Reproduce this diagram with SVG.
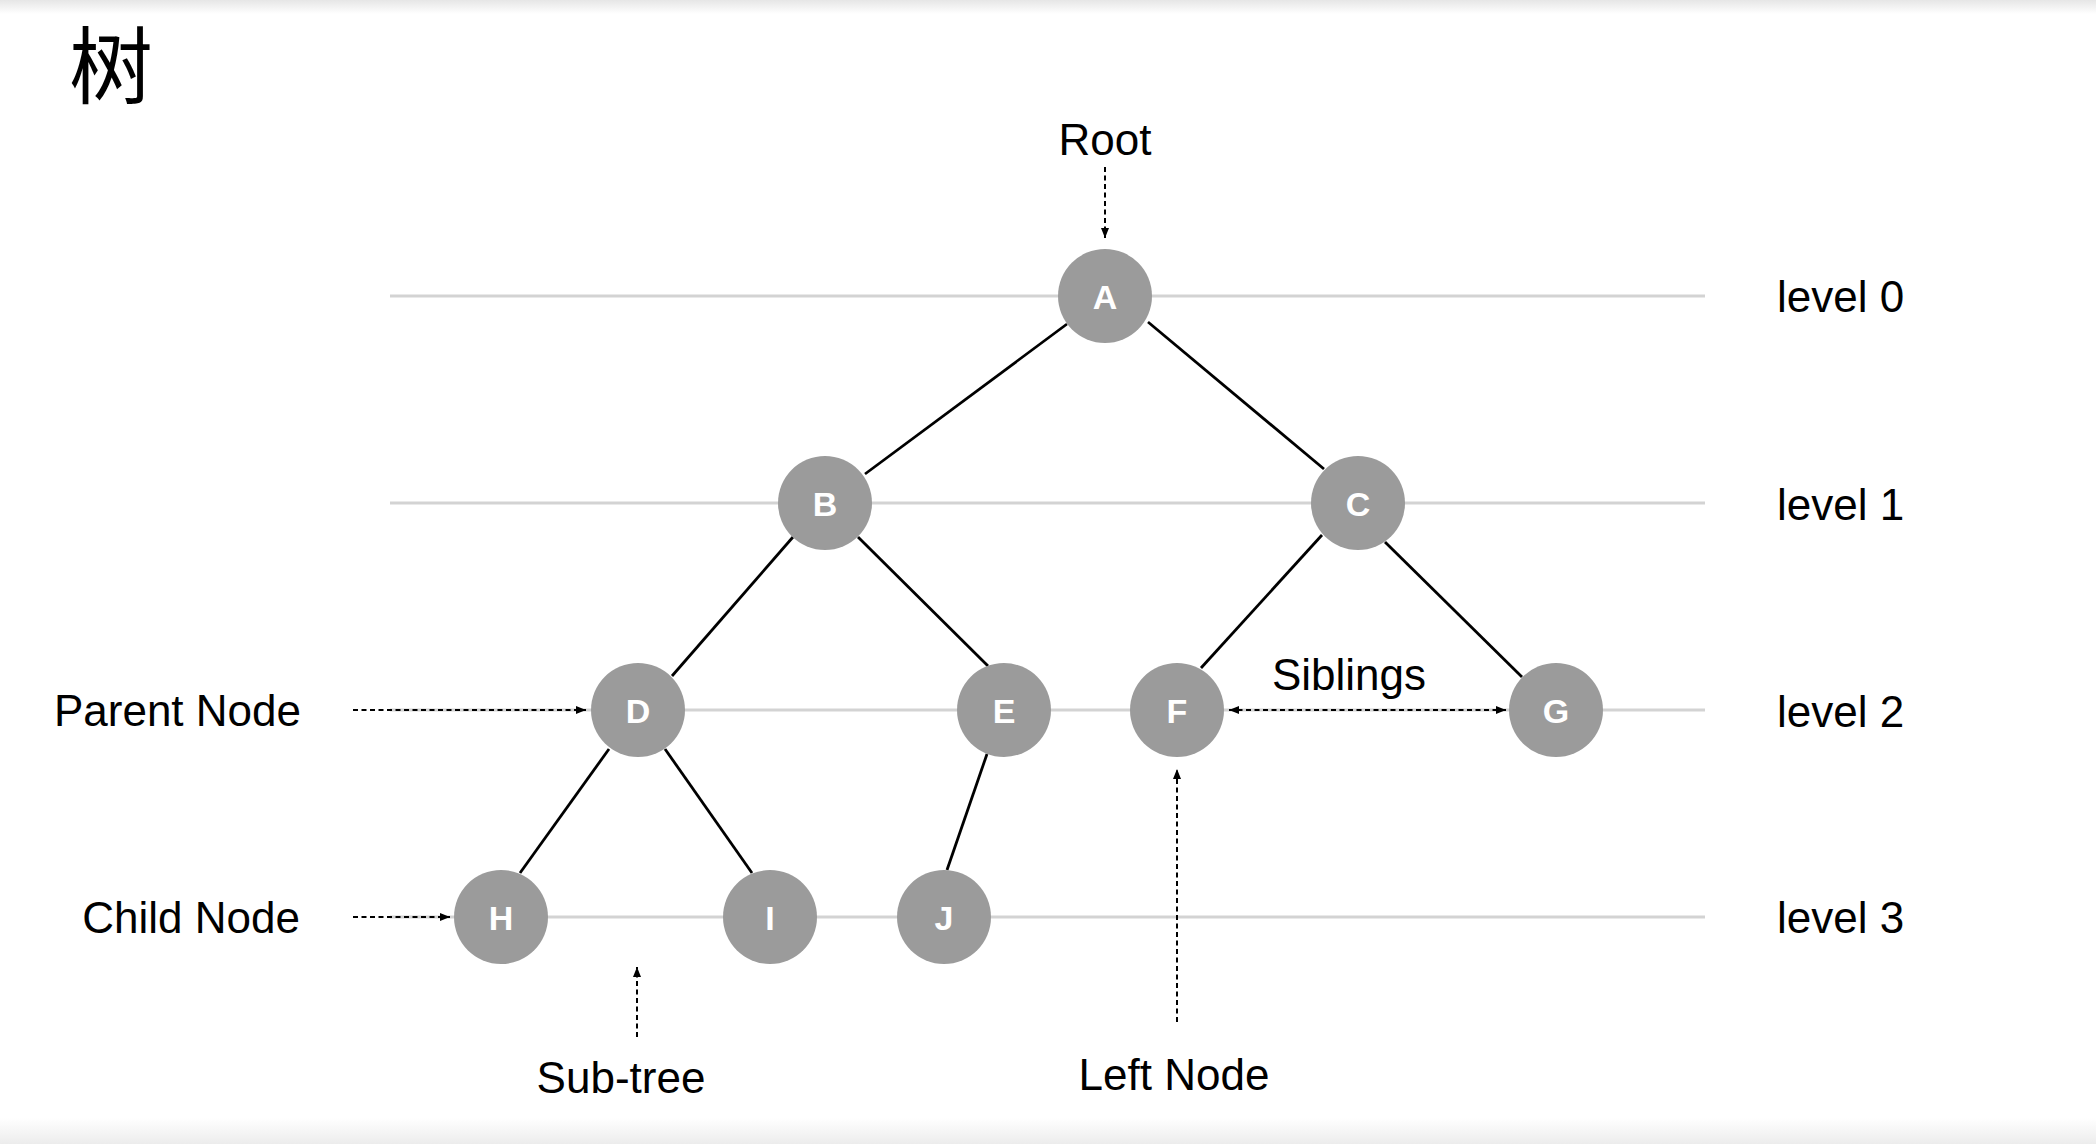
<svg xmlns="http://www.w3.org/2000/svg" width="2096" height="1144" viewBox="0 0 2096 1144">
<defs>
<linearGradient id="topg" x1="0" y1="0" x2="0" y2="1"><stop offset="0" stop-color="#e6e6e6"/><stop offset="1" stop-color="#ffffff"/></linearGradient>
<linearGradient id="botg" x1="0" y1="0" x2="0" y2="1"><stop offset="0" stop-color="#ffffff"/><stop offset="1" stop-color="#ececec"/></linearGradient>
<marker id="ah" markerUnits="userSpaceOnUse" markerWidth="10" markerHeight="8" refX="10" refY="4" orient="auto-start-reverse"><path d="M0,0 L10,4 L0,8 z" fill="#000"/></marker>
<style>
.lvl{stroke:#d3d3d3;stroke-width:3;fill:none}
.edge{stroke:#000;stroke-width:2.8;fill:none}
.dash{stroke:#000;stroke-width:2;stroke-dasharray:5 3.5;fill:none}
.node circle{fill:#9b9b9b}
.node text{font-family:"Liberation Sans",Arial,sans-serif;font-weight:bold;font-size:34px;fill:#fff;text-anchor:middle}
.lbl{font-family:"Liberation Sans",Arial,sans-serif;font-size:44px;fill:#000}
</style>
</defs>
<rect width="2096" height="1144" fill="#fff"/>
<rect width="2096" height="14" fill="url(#topg)"/>
<rect y="1118" width="2096" height="26" fill="url(#botg)"/>
<text x="69" y="97" font-family="'Noto Sans CJK SC',sans-serif" font-size="84" fill="#000">树</text>
<g id="levels">
<line class="lvl" x1="390" y1="296" x2="1705" y2="296"/>
<line class="lvl" x1="390" y1="503" x2="1705" y2="503"/>
<line class="lvl" x1="390" y1="710" x2="1705" y2="710"/>
<line class="lvl" x1="390" y1="917" x2="1705" y2="917"/>
</g>
<g id="connectors">
<line class="edge" x1="1067" y1="324" x2="865" y2="474"/>
<line class="edge" x1="1148" y1="322" x2="1324" y2="469"/>
<line class="edge" x1="793" y1="537" x2="672" y2="676"/>
<line class="edge" x1="858" y1="537" x2="988" y2="666"/>
<line class="edge" x1="1322" y1="535" x2="1201" y2="668"/>
<line class="edge" x1="1385" y1="542" x2="1522" y2="677"/>
<line class="edge" x1="609" y1="749" x2="520" y2="873"/>
<line class="edge" x1="665" y1="749" x2="752" y2="873"/>
<line class="edge" x1="987" y1="754" x2="947" y2="870"/>
<line class="dash" x1="1105" y1="167" x2="1105" y2="238" marker-end="url(#ah)"/>
<line class="dash" x1="353" y1="710" x2="586" y2="710" marker-end="url(#ah)"/>
<line class="dash" x1="353" y1="917" x2="450" y2="917" marker-end="url(#ah)"/>
<line class="dash" x1="1229" y1="710" x2="1506" y2="710" marker-start="url(#ah)" marker-end="url(#ah)"/>
<line class="dash" x1="637" y1="1037" x2="637" y2="967" marker-end="url(#ah)"/>
<line class="dash" x1="1177" y1="1022" x2="1177" y2="769" marker-end="url(#ah)"/>
</g>
<g id="node-A" class="node"><circle cx="1105" cy="296" r="47"/><text x="1105" y="309">A</text></g>
<g id="node-B" class="node"><circle cx="825" cy="503" r="47"/><text x="825" y="516">B</text></g>
<g id="node-C" class="node"><circle cx="1358" cy="503" r="47"/><text x="1358" y="516">C</text></g>
<g id="node-D" class="node"><circle cx="638" cy="710" r="47"/><text x="638" y="723">D</text></g>
<g id="node-E" class="node"><circle cx="1004" cy="710" r="47"/><text x="1004" y="723">E</text></g>
<g id="node-F" class="node"><circle cx="1177" cy="710" r="47"/><text x="1177" y="723">F</text></g>
<g id="node-G" class="node"><circle cx="1556" cy="710" r="47"/><text x="1556" y="723">G</text></g>
<g id="node-H" class="node"><circle cx="501" cy="917" r="47"/><text x="501" y="930">H</text></g>
<g id="node-I" class="node"><circle cx="770" cy="917" r="47"/><text x="770" y="930">I</text></g>
<g id="node-J" class="node"><circle cx="944" cy="917" r="47"/><text x="944" y="930">J</text></g>
<g id="labels">
<text class="lbl" x="1105" y="155" text-anchor="middle">Root</text>
<text class="lbl" x="301" y="726" text-anchor="end">Parent Node</text>
<text class="lbl" x="300" y="933" text-anchor="end">Child Node</text>
<text class="lbl" x="621" y="1093" text-anchor="middle">Sub-tree</text>
<text class="lbl" x="1174" y="1090" text-anchor="middle">Left Node</text>
<text class="lbl" x="1349" y="690" text-anchor="middle">Siblings</text>
<text class="lbl" x="1777" y="312">level 0</text>
<text class="lbl" x="1777" y="520">level 1</text>
<text class="lbl" x="1777" y="727">level 2</text>
<text class="lbl" x="1777" y="933">level 3</text>
</g>
</svg>
